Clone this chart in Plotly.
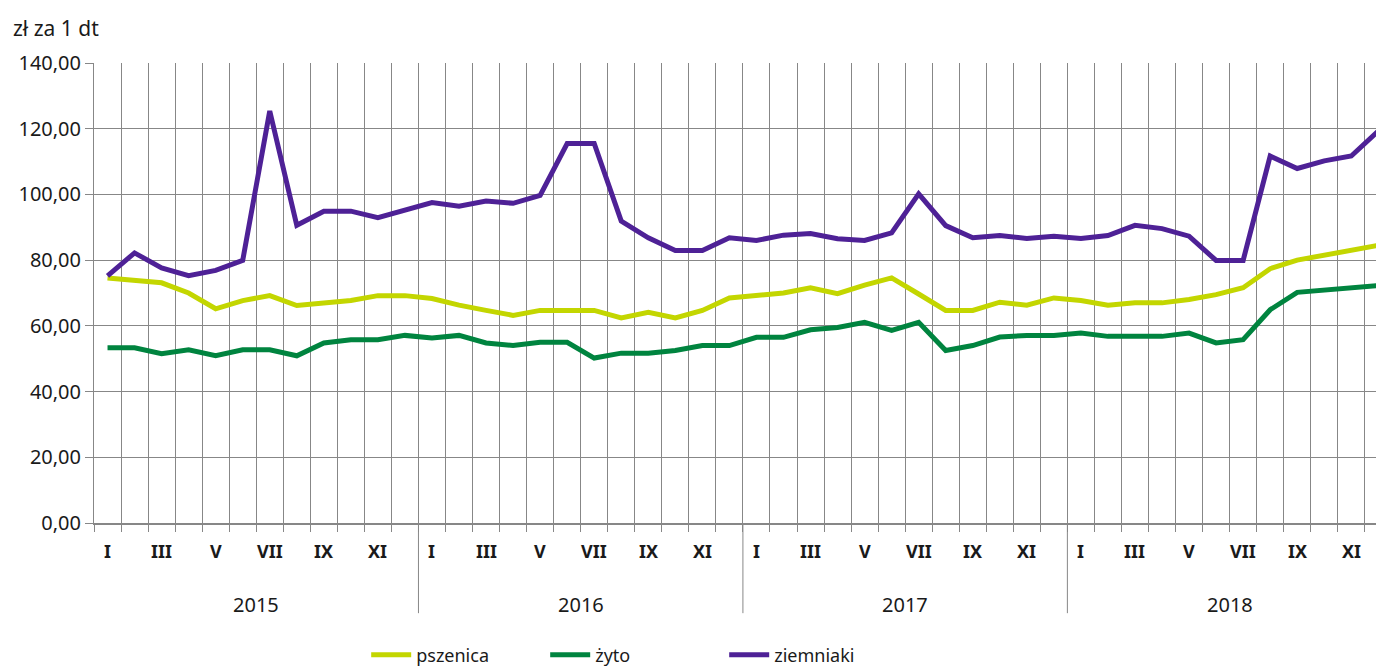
import plotly.graph_objects as go

years = [2015, 2016, 2017, 2018]
months = ["I", "II", "III", "IV", "V", "VI", "VII", "VIII", "IX", "X", "XI", "XII"]

pszenica = [74.6, 73.8, 73.1, 70.0, 65.2, 67.7, 69.2, 66.2, 67.0, 67.7, 69.2, 69.2,
            68.3, 66.3, 64.7, 63.2, 64.7, 64.7, 64.7, 62.4, 64.1, 62.4, 64.7, 68.5,
            69.3, 70.0, 71.6, 69.8, 72.4, 74.6, 69.7, 64.7, 64.7, 67.2, 66.3, 68.5,
            67.7, 66.3, 67.0, 67.0, 68.0, 69.5, 71.6, 77.4, 80.0, 81.5, 83.0, 84.5]
zyto = [53.3, 53.3, 51.5, 52.7, 50.9, 52.7, 52.7, 50.9, 54.8, 55.8, 55.8, 57.1,
        56.3, 57.1, 54.8, 54.0, 55.0, 55.0, 50.2, 51.7, 51.7, 52.5, 54.0, 54.0,
        56.5, 56.5, 58.8, 59.5, 61.1, 58.6, 61.1, 52.5, 54.0, 56.6, 57.1, 57.1,
        57.8, 56.8, 56.8, 56.8, 57.8, 54.8, 55.8, 64.9, 70.2, 71.0, 71.7, 72.3]
ziemniaki = [75.2, 82.2, 77.6, 75.3, 76.9, 79.9, 125.4, 90.6, 94.9, 94.9, 92.9, 95.1,
             97.5, 96.4, 98.0, 97.3, 99.7, 115.5, 115.5, 91.9, 86.8, 82.9, 82.9, 86.8,
             86.0, 87.6, 88.1, 86.5, 86.0, 88.3, 100.2, 90.5, 86.8, 87.5, 86.6, 87.3,
             86.6, 87.5, 90.6, 89.6, 87.3, 79.9, 79.9, 111.7, 107.9, 110.2, 111.7, 119.3]

y_ticks = [0, 20, 40, 60, 80, 100, 120, 140]

series = [("pszenica", pszenica, "#C3D600"),
          ("żyto", zyto, "#00843F"),
          ("ziemniaki", ziemniaki, "#4E2196")]

n = len(years) * len(months)
xs = list(range(n))

FONT = "Noto Sans"
GRID = "#878787"
TXT = "#1a1a1a"

fig = go.Figure()
for name, vals, col in series:
    fig.add_trace(go.Scatter(x=xs, y=vals, mode="lines", name=name,
                             line=dict(color=col, width=5)))

fig.update_layout(
    width=1376, height=660,
    margin=dict(l=86, r=0, t=55, b=145, autoexpand=False),
    paper_bgcolor="white", plot_bgcolor="white",
    font=dict(family=FONT, color=TXT),
    showlegend=True,
    legend=dict(orientation="h", x=0.211, xanchor="left", y=-0.287, yanchor="middle",
                font=dict(size=18, family=FONT, color=TXT),
                itemwidth=40, tracegroupgap=0, entrywidth=124),
    xaxis=dict(range=[-0.5, 47.21],
               tickvals=[i - 0.5 for i in range(n + 1)],
               ticktext=["" for _ in range(n + 1)],
               showgrid=True, gridcolor=GRID, gridwidth=1,
               ticks="outside", ticklen=7, tickcolor=GRID, tickwidth=1,
               showline=True, linecolor=GRID, linewidth=1.5,
               zeroline=False, fixedrange=True, automargin=False),
    yaxis=dict(range=[0, 140], tickvals=y_ticks,
               ticktext=[f"{v:.2f}".replace(".", ",") for v in y_ticks],
               showgrid=True, gridcolor=GRID, gridwidth=1,
               ticks="outside", ticklen=8, tickcolor=GRID,
               tickfont=dict(size=20, family=FONT, color=TXT),
               showline=True, linecolor=GRID, linewidth=1,
               zeroline=False, fixedrange=True, automargin=False),
)

# month labels (odd months only)
for yi, yr in enumerate(years):
    for mi, m in enumerate(months):
        if mi % 2 == 0:
            fig.add_annotation(x=yi * 12 + mi, y=-0.061, xref="x", yref="paper",
                               text=f"<b>{m}</b>", showarrow=False,
                               font=dict(size=18, family=FONT, color=TXT),
                               xanchor="center", yanchor="middle")
    fig.add_annotation(x=yi * 12 + 5.5, y=-0.178, xref="x", yref="paper",
                       text=str(yr), showarrow=False,
                       font=dict(size=20, family=FONT, color=TXT),
                       xanchor="center", yanchor="middle")
    if yi > 0:
        fig.add_shape(type="line", xref="x", yref="paper",
                      x0=yi * 12 - 0.5, x1=yi * 12 - 0.5, y0=0, y1=-0.196,
                      line=dict(color=GRID, width=1))

fig.add_annotation(x=-0.064, y=1.076, xref="paper", yref="paper", text="zł za 1 dt",
                   showarrow=False, xanchor="left", yanchor="middle",
                   font=dict(size=21, family=FONT, color=TXT))

fig.write_html("out.html")
